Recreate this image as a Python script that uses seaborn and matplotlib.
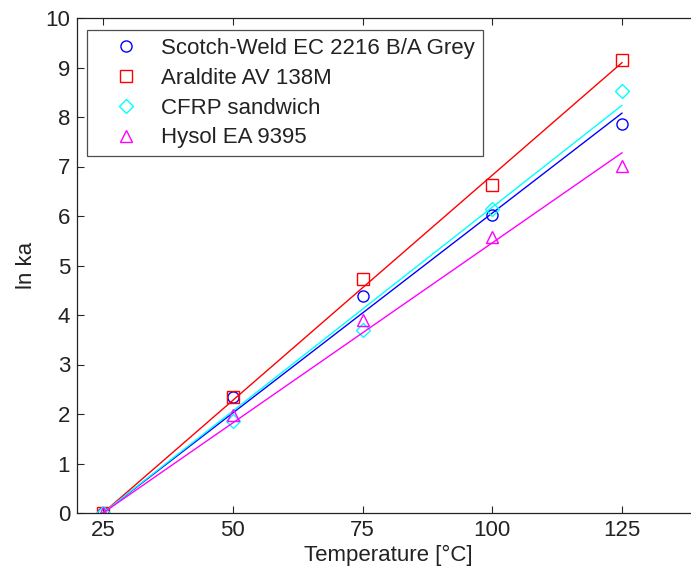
import numpy as np
import pandas as pd
import matplotlib
matplotlib.use("Agg")
import matplotlib.pyplot as plt
from matplotlib.lines import Line2D
import seaborn as sns

temperature = [25, 50, 75, 100, 125]
scotch_weld = [0.0, 2.35, 4.38, 6.03, 7.85]
araldite = [0.0, 2.35, 4.72, 6.62, 9.15]
cfrp = [0.0, 1.85, 3.70, 6.15, 8.52]
hysol = [0.0, 1.97, 3.90, 5.58, 7.02]

series_names = ["Scotch-Weld EC 2216 B/A Grey", "Araldite AV 138M", "CFRP sandwich", "Hysol EA 9395"]
series_values = [scotch_weld, araldite, cfrp, hysol]
colors = ["#0000ff", "#ff0000", "#00ffff", "#ff00ff"]
markers = ["o", "s", "D", "^"]
msizes = [8, 9, 7, 9]

sns.set_style("ticks")
plt.rcParams["font.family"] = ["Liberation Sans", "DejaVu Sans"]

fig = plt.figure(figsize=(6.91, 5.72), dpi=100)
ax = fig.add_axes([77/691, 59/572, 623/691, 495/572])

T = np.array(temperature, dtype=float)
dx = T - 25
for name, vals, c, m, ms in zip(series_names, series_values, colors, markers, msizes):
    y = np.array(vals, dtype=float)
    slope = np.sum(dx * y) / np.sum(dx * dx)
    fit = pd.DataFrame({"T": T, "fit": slope * dx})
    sns.lineplot(data=fit, x="T", y="fit", color=c, lw=1.0, ax=ax)
    pts = pd.DataFrame({"T": T, "v": y})
    sns.lineplot(data=pts, x="T", y="v", ax=ax, linestyle="", marker=m,
                 markersize=ms, markerfacecolor="none", markeredgecolor=c,
                 markeredgewidth=1.0, color=c)

ax.set_xlim(20, 140)
ax.set_ylim(0, 10)
ax.set_xticks([25, 50, 75, 100, 125])
ax.set_yticks(range(0, 11))
ax.set_xlabel("Temperature [°C]", fontsize=16, labelpad=3, color="#222222")
ax.set_ylabel("ln ka", fontsize=16, labelpad=6, color="#222222")
ax.tick_params(direction="in", top=True, right=True, labelsize=16, length=5, width=0.8,
               labelcolor="#222222", pad=5)
for s in ax.spines.values():
    s.set_linewidth(0.9)
    s.set_color("#222222")

handles = [Line2D([], [], linestyle="", marker=m, markersize=ms, markerfacecolor="none",
                  markeredgecolor=c, markeredgewidth=1.0)
           for c, m, ms in zip(colors, markers, msizes)]
leg = ax.legend(handles, series_names, loc="upper left", bbox_to_anchor=(10/623, 1 - 12/495),
                fontsize=16, frameon=True, fancybox=False, labelspacing=0.4,
                handlelength=2.8, handletextpad=0.2, borderpad=0.35, borderaxespad=0)
leg.get_frame().set_edgecolor("#222222")
leg.get_frame().set_linewidth(0.9)
for t in leg.get_texts():
    t.set_color("#222222")

fig.savefig("out.png", dpi=100)
